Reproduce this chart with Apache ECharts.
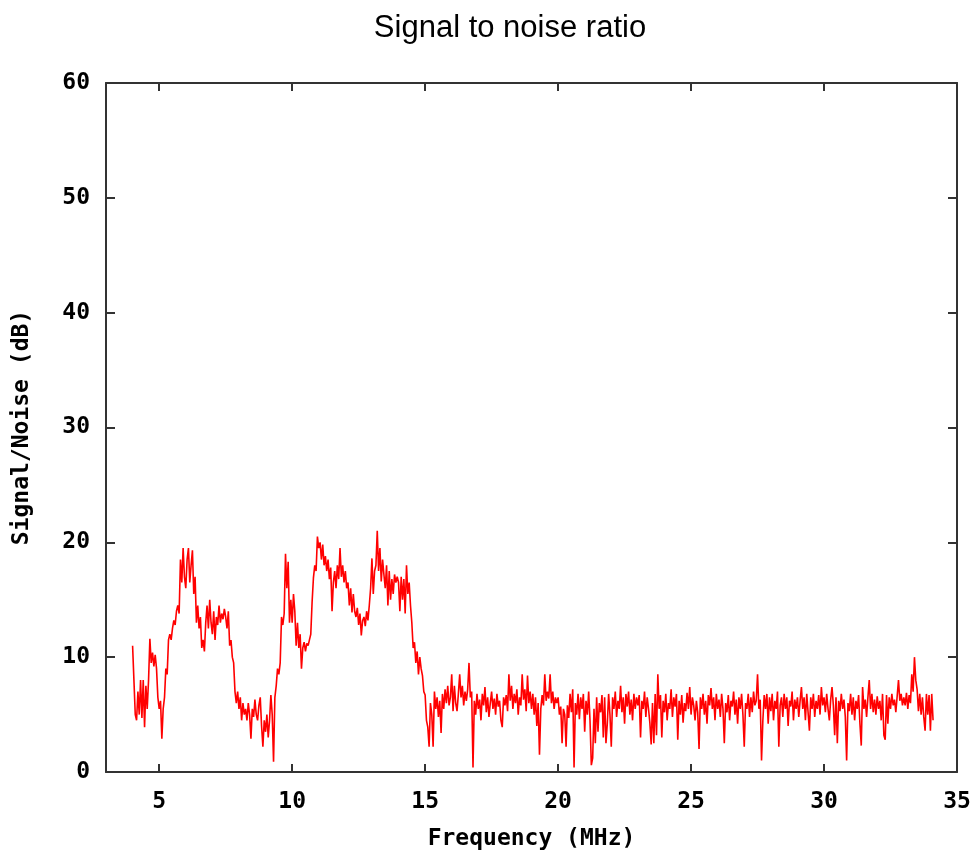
<!DOCTYPE html>
<html>
<head>
<meta charset="utf-8">
<script src="https://cdn.jsdelivr.net/npm/echarts@6/dist/echarts.min.js"></script>
<style>html,body{margin:0;padding:0;background:#fff}#c{width:980px;height:856px}</style>
</head>
<body>
<div id="c"></div>
<script>
// Sampling grid (MHz)
const freqStart = 4.0;
const freqStep = 0.05;
// Signal/Noise (dB), one row per MHz, 20 samples per row
const snr = [
  11,8,5,4.5,7,5,8,4.7,8,3.9,7.5,5.5,8,11.6,9.5,10.4,9.2,10.2,9,6.5,
  5.5,6.2,2.9,5.5,6.5,9,8.5,11.5,12,11.5,12.5,13.2,12.8,14,14.5,13.8,18.5,16.5,19.5,17,
  16,18.5,19.5,16.5,18,19.3,15.5,17,13,14.5,12.5,13.5,10.8,11.5,10.5,13,14.5,12.5,15,13,
  12,14,11.5,13.5,12.8,14.5,13,13.8,13.3,14.2,13.5,12.5,14,11,11.5,10,9.5,7,6,7,
  5.5,6.5,4.5,6,5,5.5,4.5,6,5,2.9,5.5,4.8,6.3,5,4.5,5.8,6.5,4,2.2,4.5,
  3.5,5,3,4.5,6.7,5,0.9,6.5,7.5,9,8.5,9.5,13.5,12.8,13.8,19,16,18.3,13,15,
  13,15.5,14,11,13,10.8,12,9,10.8,11.3,10.5,11.2,11,11.5,12,14.8,16.9,18,17.5,20.5,
  19.5,20,18.5,19.8,18,18.8,17.5,18.5,16.8,17.8,14,16.5,17.5,16,18,16.8,19.5,17,18,16.5,
  17.5,16,16.5,14.5,16,13.9,15.5,14,13.5,14.3,12.8,13.8,11.9,13.2,13.5,12.7,14,13.2,14.5,16,
  18.6,15.5,17.5,18,21,17.5,19.5,16.6,18.5,17.2,16,18,14.5,17.5,15,16.8,15.5,17.2,16.5,17,
  16.5,14,17,15,16.8,13.8,18,15.5,16.5,14.5,13,10.8,11.3,9.5,10.5,8.5,10,9,8.4,7,
  6.7,4.5,3.9,2.2,6,5,2.2,7,5.5,6.5,4.8,6.2,3.4,6.8,5.5,7.2,6,7.5,5.8,6.5,
  8.5,5.3,7.5,6,5.3,6.8,8.5,6.5,7.5,5.8,7,6.2,7.2,9.5,6.5,7,0.4,6.2,5,6.8,
  5.5,6.3,4.5,6.8,5.8,7.4,5.2,6.5,4.8,6,7,5.5,6.4,5,6.8,5.7,6.2,4.5,3.9,6.5,
  5.8,6.7,5.3,8.5,6.2,7.5,5.5,6.8,6,7.2,5,6.5,5.8,8.5,6.3,7.2,5.3,8.4,6,7,
  5.5,6.8,5,6.5,4,6,1.5,5.5,6.7,5.8,8.5,6.2,7,6.4,8.5,6,7,5.5,6.5,6,
  6.5,5,5.7,2.5,5.5,5,2.2,5.8,4.7,6.8,5.2,7.2,0.4,6,5,6.8,4.6,6.5,5.5,6.8,
  3.5,6.2,5,7,4.5,0.6,1.2,5.5,2.5,6.5,3.5,6,5.2,6.7,3,6.5,2.5,4.2,6.8,5,
  2.2,6.5,5.5,7,4.8,6.2,5.5,7.5,5.2,6.5,4.2,6.8,5.7,7,5,6.3,4.5,6.8,5.5,6.5,
  5.8,6.7,3,6.2,5.5,7,4.8,6.5,5.5,4.3,2.4,6,2.5,6.8,3.2,8.5,5.5,6.7,3,6.2,
  5.2,6.8,4.5,6,5.5,7.2,4.8,6.5,5.7,6.8,2.8,6.2,5,6.7,4.3,6,5.3,6.9,5.5,7.4,
  5,6.5,5.8,4.5,6.2,5.2,2.0,6.5,5.5,6.8,5,6.2,4.2,6.7,5.8,7.3,5.5,6.5,4.5,6.8,
  5.5,6.3,4.8,6.8,5.5,2.5,6,5.2,6.7,4.5,6.2,5.7,7,5,6.3,4.2,6.5,5.5,6.8,5,
  2.2,6,5.5,6.8,4.8,6.5,5.2,7,5.8,6.2,8.5,5.5,6.3,1.0,4.5,6.7,5.5,6.8,4.2,6.5,
  5.3,6.8,4.5,6.2,5.5,7,2.2,5.8,6.5,4.8,6.8,5.5,6.5,4,6.2,5.7,7,4.5,6.3,5.5,
  6.5,4.8,6.2,7.4,5.5,6.5,4.5,6.8,5.2,3.6,6.5,5.5,6.8,4.8,6.2,5.5,6.7,5,7.4,5.8,
  6.5,5.2,6.8,5.5,4.5,6.3,7.4,5.8,3.2,6.5,2.5,6.2,5.3,6.8,5.5,6.3,4.8,1.0,6,5.3,
  6.8,5,6.5,4.5,6.2,5.5,6.7,4.2,2.3,7.4,5.5,6.3,4.8,6.5,8.0,5.5,6.8,5.2,6.3,5,
  6.6,5.5,6.2,4.5,6.8,3.2,2.8,6.7,4.2,6.5,5.5,6.8,5.8,6.3,5.2,6.6,8.0,6.2,6.8,5.8,
  6.5,5.8,6.9,5.5,6.7,6,8.5,7,10,8,7.2,5.3,6.8,5,6.5,4.8,3.6,6.8,5,6.7,
  3.6,6.8,4.5
];
const xTicks = [5, 10, 15, 20, 25, 30, 35];
const yMin = 0, yMax = 60, yStep = 10;
const xMin = 3, xMax = 35;

const points = snr.map((v, i) => [+(freqStart + i * freqStep).toFixed(2), v]);

const monoFont = '"DejaVu Sans Mono", "Liberation Mono", monospace';
const axisColor = '#333';
const lblStyle = { fontFamily: monoFont, fontWeight: 'bold', fontSize: 23, color: '#000' };

const chart = echarts.init(document.getElementById('c'), null, { renderer: 'canvas' });
chart.setOption({
  animation: false,
  backgroundColor: '#fff',
  title: {
    text: 'Signal to noise ratio',
    left: 505, top: 8, textAlign: 'center',
    textStyle: { fontFamily: '"Liberation Sans", Arial, sans-serif', fontWeight: 'normal', fontSize: 31, color: '#000' }
  },
  grid: { left: 106, right: 23, top: 83, bottom: 78, containLabel: false },
  xAxis: [
    {
      type: 'value', min: xMin, max: xMax, position: 'bottom',
      name: 'Frequency (MHz)', nameLocation: 'middle', nameGap: 56,
      nameTextStyle: lblStyle,
      axisLine: { show: true, onZero: false, lineStyle: { color: axisColor, width: 2 } },
      axisTick: { show: true, inside: true, length: 8, customValues: xTicks, lineStyle: { color: axisColor, width: 2 } },
      axisLabel: { show: true, customValues: xTicks, margin: 19, showMinLabel: true, showMaxLabel: true, ...lblStyle },
      splitLine: { show: false }
    },
    {
      type: 'value', min: xMin, max: xMax, position: 'top',
      axisLine: { show: true, onZero: false, lineStyle: { color: axisColor, width: 2 } },
      axisTick: { show: true, inside: true, length: 8, customValues: xTicks, lineStyle: { color: axisColor, width: 2 } },
      axisLabel: { show: false },
      splitLine: { show: false }
    }
  ],
  yAxis: [
    {
      type: 'value', min: yMin, max: yMax, interval: yStep, position: 'left',
      name: 'Signal/Noise (dB)', nameLocation: 'middle', nameGap: 72,
      nameTextStyle: lblStyle,
      axisLine: { show: true, onZero: false, lineStyle: { color: axisColor, width: 2 } },
      axisTick: { show: true, inside: true, length: 9, lineStyle: { color: axisColor, width: 2 } },
      axisLabel: { show: true, margin: 16, padding: [4, 0, 0, 0], ...lblStyle },
      splitLine: { show: false }
    },
    {
      type: 'value', min: yMin, max: yMax, interval: yStep, position: 'right',
      axisLine: { show: true, onZero: false, lineStyle: { color: axisColor, width: 2 } },
      axisTick: { show: true, inside: true, length: 9, lineStyle: { color: axisColor, width: 2 } },
      axisLabel: { show: false },
      splitLine: { show: false }
    }
  ],
  series: [{
    type: 'line',
    xAxisIndex: 0, yAxisIndex: 0,
    data: points,
    showSymbol: false,
    symbol: 'none',
    lineStyle: { color: '#ff0000', width: 1.6 },
    z: 1
  }]
});
</script>
</body>
</html>
